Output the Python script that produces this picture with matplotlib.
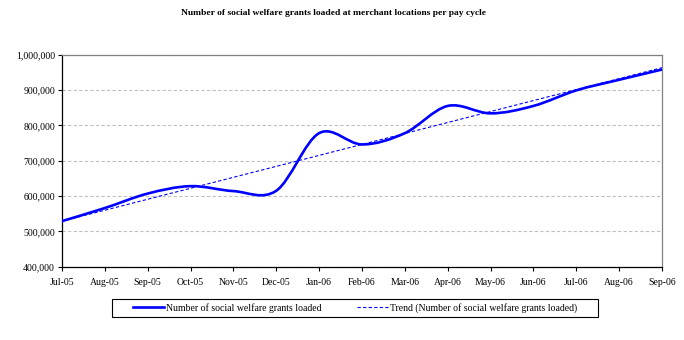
import numpy as np
import matplotlib
matplotlib.use("Agg")
import matplotlib.pyplot as plt
from matplotlib.path import Path
from matplotlib.patches import PathPatch, Rectangle
from matplotlib.lines import Line2D
from matplotlib.ticker import FuncFormatter, MultipleLocator

months = ["Jul-05", "Aug-05", "Sep-05", "Oct-05", "Nov-05", "Dec-05", "Jan-06",
          "Feb-06", "Mar-06", "Apr-06", "May-06", "Jun-06", "Jul-06", "Aug-06", "Sep-06"]
grants = [529000, 566000, 607000, 628000, 614000, 615000, 778000,
          746000, 778000, 855000, 834000, 855000, 899000, 929000, 958000]

title = "Number of social welfare grants loaded at merchant locations per pay cycle"
series_label = "Number of social welfare grants loaded"
trend_label = "Trend (Number of social welfare grants loaded)"

plt.rcParams['font.family'] = ['Liberation Serif', 'DejaVu Serif']

W, H = 684, 340
fig = plt.figure(figsize=(6.84, 3.40), dpi=100)
ax = fig.add_axes([62/W, 1-266.7/H, 600/W, 212/H])

x = np.arange(len(grants), dtype=float)
y = np.array(grants, dtype=float)

# Smoothed line (Excel-like Catmull-Rom Bezier through data points)
verts = [(x[0], y[0])]
codes = [Path.MOVETO]
n = len(x)
for i in range(n - 1):
    xm, ym = (x[i-1], y[i-1]) if i > 0 else (x[i], y[i])
    xp2, yp2 = (x[i+2], y[i+2]) if i + 2 < n else (x[i+1], y[i+1])
    c1 = (x[i] + (x[i+1] - xm) / 6, y[i] + (y[i+1] - ym) / 6)
    c2 = (x[i+1] - (xp2 - x[i]) / 6, y[i+1] - (yp2 - y[i]) / 6)
    verts += [c1, c2, (x[i+1], y[i+1])]
    codes += [Path.CURVE4] * 3
patch = PathPatch(Path(verts, codes), facecolor='none', edgecolor='#0000FF',
                  linewidth=1.9, zorder=3, capstyle='round', joinstyle='round')
ax.add_patch(patch)

# Linear trend
coef = np.polyfit(x, y, 1)
ax.plot(x, np.polyval(coef, x), color='#0000FF', linewidth=0.8,
        dashes=(3, 2), zorder=2)

ax.set_xlim(0, n - 1)
ax.set_ylim(400000, 1000000)
ax.yaxis.set_major_locator(MultipleLocator(100000))
ax.yaxis.set_major_formatter(FuncFormatter(lambda v, p: f"{int(v):,}"))
ax.set_xticks(x)
ax.set_xticklabels(months)
ax.tick_params(axis='both', labelsize=7, direction='out', length=3, width=0.8,
               colors='black')
ax.tick_params(axis='x', pad=5)
ax.tick_params(axis='y', pad=2)

ax.grid(axis='y', color='#c0c0c0', linestyle=(0, (3, 2)), linewidth=0.8)
ax.set_axisbelow(True)
for s in ['left', 'bottom']:
    ax.spines[s].set_color('black')
    ax.spines[s].set_linewidth(0.9)
for s in ['top', 'right']:
    ax.spines[s].set_color('#808080')
    ax.spines[s].set_linewidth(0.9)

fig.text(0.487, 1 - 13/H, title, ha='center', va='center', fontsize=6.8,
         fontweight='bold')

handles = [Line2D([], [], color='#0000FF', linewidth=1.9),
           Line2D([], [], color='#0000FF', linewidth=0.8, dashes=(3, 2))]
leg = fig.legend(handles, [series_label, trend_label], loc='center',
                 bbox_to_anchor=(355/W, 1 - 308/H), ncol=2, fontsize=7,
                 frameon=False, handlelength=3.2, handletextpad=0.2,
                 columnspacing=3.6, borderpad=0.35, borderaxespad=0)
fig.patches.append(Rectangle((112/W, 1 - 317/H), (598-112)/W, 18/H,
                             transform=fig.transFigure, facecolor='white',
                             edgecolor='black', linewidth=0.8, zorder=0))

fig.savefig("out.png", dpi=100)
